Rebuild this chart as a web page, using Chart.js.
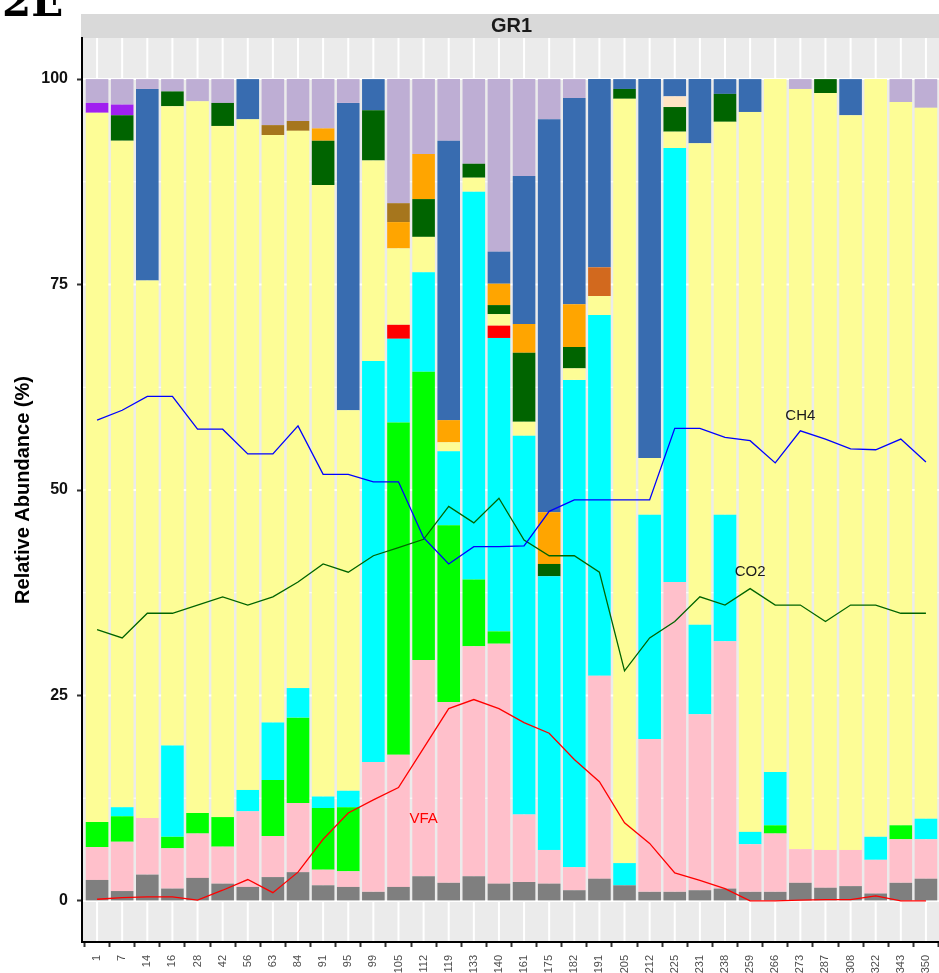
<!DOCTYPE html>
<html lang="en">
<head>
<meta charset="UTF-8">
<title>GR1 relative abundance</title>
<script src="https://cdn.jsdelivr.net/npm/chart.js@4"></script>
<style>
  html, body { margin: 0; padding: 0; background: #fff; overflow: hidden; }
  #wrap { width: 945px; height: 973px; }
</style>
</head>
<body>
<div id="wrap"><canvas id="abund" width="945" height="973"></canvas></div>
<script>
// sampling days (x axis)
const days = ['1','7','14','16','28','42','56','63','84','91','95','99','105','112','119','133','140',
              '161','175','182','191','205','212','225','231','238','259','266','273','287','308','322','343','350'];
const yTicks = [0, 25, 50, 75, 100];

// stacked relative abundances (%), bottom to top
const tGrey     = [2.55,1.2,3.2,1.5,2.8,2.1,1.7,2.9,3.5,1.9,1.7,1.1,1.7,3.0,2.2,3.0,2.1,2.3,2.1,1.3,2.7,1.9,1.1,1.1,1.3,1.5,1.1,1.1,2.2,1.6,1.8,0.9,2.2,2.7];
const tPink     = [4.0,6.0,6.9,4.9,5.4,4.5,9.2,5.0,8.4,1.9,1.9,15.8,16.1,26.3,22.0,28.0,29.2,8.2,4.1,2.8,24.7,0,18.6,37.7,21.4,30.1,5.8,7.1,4.1,4.6,4.4,4.1,5.3,4.8];
const tGreen    = [3.05,3.1,0,1.4,2.5,3.6,0,6.8,10.4,7.5,7.8,0,40.4,35.1,21.5,8.1,1.5,0,0,0,0,0,0,0,0,0,0,1.0,0,0,0,0,1.7,0];
const tCyan     = [0,1.1,0,11.1,0,0,2.6,7.0,3.6,1.4,2.0,48.8,10.2,12.1,9.0,47.2,35.7,46.1,33.3,59.3,43.9,2.7,27.3,52.8,10.9,15.4,1.5,6.5,0,0,0,2.8,0,2.5];
const tRed      = [0,0,0,0,0,0,0,0,0,0,0,0,1.7,0,0,0,1.5,0,0,0,0,0,0,0,0,0,0,0,0,0,0,0,0,0];
const tYellow   = [86.3,81.1,65.4,77.8,86.6,84.1,81.6,71.5,67.8,74.4,46.3,24.4,9.3,4.3,1.1,1.7,1.4,1.7,0,1.4,2.3,93.0,6.9,2.0,58.6,47.8,87.6,84.3,92.5,92.1,89.4,92.2,88.0,86.5];
const tDkGreen  = [0,3.1,0,1.8,0,2.8,0,0,0,5.4,0,6.1,0,4.6,0,1.7,1.1,8.4,1.5,2.6,0,1.2,0,3.0,0,3.4,0,0,0,1.7,0,0,0,0];
const tOrange   = [0,0,0,0,0,0,0,0,0,1.5,0,0,3.2,5.5,2.7,0,2.6,3.5,6.3,5.2,0,0,0,0,0,0,0,0,0,0,0,0,0,0];
const tBrown    = [0,0,0,0,0,0,0,1.2,1.2,0,0,0,2.3,0,0,0,0,0,0,0,0,0,0,0,0,0,0,0,0,0,0,0,0,0];
const tChoc     = [0,0,0,0,0,0,0,0,0,0,0,0,0,0,0,0,0,0,0,0,3.5,0,0,0,0,0,0,0,0,0,0,0,0,0];
const tBisque   = [0,0,0,0,0,0,0,0,0,0,0,0,0,0,0,0,0,0,0,0,0,0,0,1.3,0,0,0,0,0,0,0,0,0,0];
const tPurple   = [1.2,1.3,0,0,0,0,0,0,0,0,0,0,0,0,0,0,0,0,0,0,0,0,0,0,0,0,0,0,0,0,0,0,0,0];
const tBlue     = [0,0,23.3,0,0,0,4.9,0,0,0,37.4,3.8,0,0,34.0,0,3.9,18.0,47.8,25.1,22.9,1.2,46.1,2.1,7.8,1.8,4.0,0,0,0,4.4,0,0,0];
const tLavender = [2.9,3.1,1.2,1.5,2.7,2.9,0,5.6,5.1,6.0,2.9,0,15.1,9.1,7.5,10.3,21.0,11.8,4.9,2.3,0,0,0,0,0,0,0,0,1.2,0,0,0,2.8,3.5];

// biogas / VFA traces (%)
const ch4 = [58.5,59.7,61.4,61.4,57.4,57.4,54.4,54.4,57.8,51.9,51.9,51.0,51.0,44.2,41.0,43.1,43.1,43.2,47.4,48.8,48.8,48.8,48.8,57.5,57.5,56.4,56.0,53.3,57.2,56.2,55.0,54.9,56.2,53.4];
const co2 = [33,32,35,35,36,37,36,37,38.8,41,40,42,43,44,48,46,49,43.9,42,42,40,28,32,34,37,36,38,36,36,34,36,36,35,35];
const vfa = [0.2,0.4,0.5,0.5,0.1,1.3,2.6,1.0,3.5,7.5,10.7,12.3,13.8,18.6,23.4,24.5,23.4,21.7,20.4,17.2,14.5,9.5,7.0,3.4,2.5,1.5,0,0,0.1,0.15,0.15,0.6,0,0];

// trace labels: text, day index, value
const traceLabels = [['CH4', 28, 59], ['CO2', 26, 40], ['VFA', 13, 10]];

const stacks = [tGrey, tPink, tGreen, tCyan, tRed, tYellow, tDkGreen, tOrange, tBrown, tChoc, tBisque, tPurple, tBlue, tLavender];
const fills  = ['#7F7F7F', '#FFC0CB', '#00FF00', '#00FFFF', '#FF0000', '#FDFD96', '#006400', '#FFA500',
                '#A6761D', '#D2691E', '#FFE4C4', '#A020F0', '#386CB0', '#BEAED4'];
const traces = [[ch4, '#0000FF'], [co2, '#006400'], [vfa, '#FF0000']];
const labelColors = {CH4: '#1A1A1A', CO2: '#1A1A1A', VFA: '#FF0000'};

const FONT = '"Liberation Sans", Arial, Helvetica, sans-serif';
const pts = arr => arr.map((v, i) => ({x: i, y: v}));

const datasets = [];
traces.forEach(([arr, col]) => datasets.push({
  type: 'line', data: pts(arr), yAxisID: 'y2', order: 0,
  borderColor: col, borderWidth: 1.3, pointRadius: 0, tension: 0, fill: false
}));
stacks.forEach((arr, k) => datasets.push({
  type: 'bar', data: pts(arr), yAxisID: 'y', order: 1,
  backgroundColor: fills[k], borderWidth: 0,
  barPercentage: 0.9, categoryPercentage: 1.0
}));

// grey panel, white grid, facet strip and trace labels
const panel = {
  id: 'panel',
  beforeDraw(chart) {
    const {ctx, chartArea: a, scales} = chart;
    ctx.save();
    ctx.fillStyle = '#fff';
    ctx.fillRect(0, 0, chart.width, chart.height);
    ctx.fillStyle = '#EBEBEB';
    ctx.fillRect(a.left, a.top, a.right - a.left, a.bottom - a.top);
    ctx.strokeStyle = '#fff';
    const hline = (v, w) => {
      const y = scales.y.getPixelForValue(v);
      ctx.lineWidth = w;
      ctx.beginPath(); ctx.moveTo(a.left, y); ctx.lineTo(a.right, y); ctx.stroke();
    };
    [12.5, 37.5, 62.5, 87.5].forEach(v => hline(v, 1));
    yTicks.forEach(v => hline(v, 2));
    ctx.lineWidth = 2;
    days.forEach((d, i) => {
      const x = scales.x.getPixelForValue(i);
      ctx.beginPath(); ctx.moveTo(x, a.top); ctx.lineTo(x, a.bottom); ctx.stroke();
    });
    // facet strip
    ctx.fillStyle = '#D9D9D9';
    ctx.fillRect(a.left - 1, 14, a.right - a.left + 1, 24);
    ctx.fillStyle = '#1A1A1A';
    ctx.font = 'bold 20px ' + FONT;
    ctx.textAlign = 'center';
    ctx.textBaseline = 'middle';
    ctx.fillText('GR1', (a.left + a.right) / 2, 26.5);
    // panel tag, mostly above the canvas edge
    ctx.fillStyle = '#000';
    ctx.font = 'bold 42px "DejaVu Serif", "Liberation Serif", serif';
    ctx.textAlign = 'left';
    ctx.textBaseline = 'alphabetic';
    ctx.fillText('2E', 2, 16);
    ctx.restore();
  },
  afterDatasetsDraw(chart) {
    const {ctx, scales} = chart;
    ctx.save();
    ctx.font = '15px ' + FONT;
    ctx.textAlign = 'center';
    ctx.textBaseline = 'middle';
    traceLabels.forEach(([txt, i, v]) => {
      ctx.fillStyle = labelColors[txt];
      ctx.fillText(txt, scales.x.getPixelForValue(i), scales.y.getPixelForValue(v));
    });
    ctx.restore();
  }
};

new Chart(document.getElementById('abund'), {
  data: {datasets},
  plugins: [panel],
  options: {
    responsive: false,
    devicePixelRatio: 1,
    animation: false,
    layout: {padding: {top: 38, right: 4, left: 0, bottom: 0}},
    plugins: {legend: {display: false}, tooltip: {enabled: false}},
    scales: {
      x: {
        type: 'linear', min: -0.6, max: 33.6, stacked: true, offset: false,
        afterBuildTicks: s => { s.ticks = days.map((d, i) => ({value: i})); },
        afterFit: s => { s.height = 31; s.paddingLeft = 0; s.paddingRight = 0; },
        ticks: {
          autoSkip: false, minRotation: 90, maxRotation: 90, padding: 8,
          color: '#4D4D4D', font: {family: FONT, size: 11},
          callback: v => days[v]
        },
        grid: {drawOnChartArea: false, color: 'rgba(0,0,0,0)', tickColor: '#333', tickLength: 5, tickWidth: 2},
        border: {display: true, color: '#000', width: 2}
      },
      y: {
        type: 'linear', min: -5, max: 105, stacked: true,
        afterBuildTicks: s => { s.ticks = yTicks.map(v => ({value: v})); },
        afterFit: s => { s.width = 82; s.paddingTop = 0; s.paddingBottom = 0; },
        ticks: {padding: 9, color: '#111', font: {family: FONT, size: 16, weight: 'bold'}},
        grid: {drawOnChartArea: false, color: 'rgba(0,0,0,0)', tickColor: '#333', tickLength: 5, tickWidth: 2},
        border: {display: true, color: '#000', width: 2},
        title: {display: true, text: 'Relative Abundance (%)', color: '#000',
                font: {family: FONT, size: 20, weight: 'bold'}, padding: {top: 11, bottom: 0}}
      },
      y2: {type: 'linear', min: -5, max: 105, display: false}
    }
  }
});
</script>
</body>
</html>
